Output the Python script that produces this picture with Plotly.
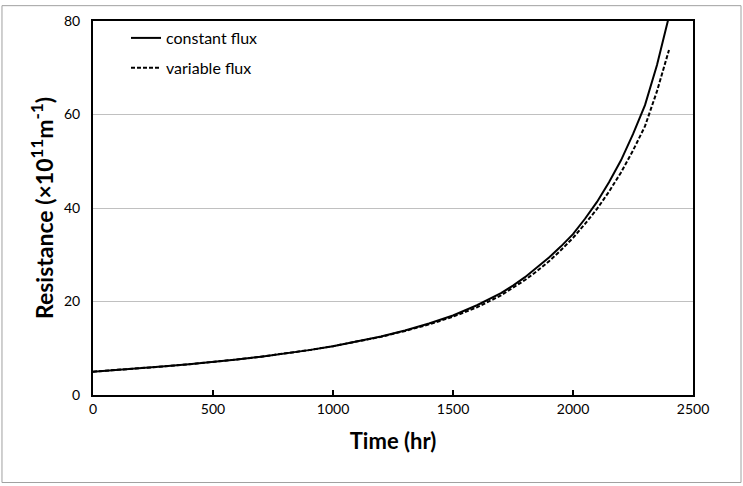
import plotly.graph_objects as go

time_hr = [0, 100, 200, 300, 400, 500, 600, 700, 800, 900, 1000, 1100, 1200,
           1300, 1400, 1500, 1600, 1700, 1750, 1800, 1850, 1900, 1950, 2000,
           2050, 2100, 2150, 2200, 2250, 2300, 2350, 2400]
constant_flux = [5.0, 5.35, 5.72, 6.13, 6.57, 7.05, 7.6, 8.2, 8.85, 9.6, 10.45,
                 11.4, 12.5, 13.8, 15.3, 17.0, 19.2, 21.8, 23.4, 25.2, 27.2,
                 29.4, 31.8, 34.4, 37.7, 41.3, 45.5, 50.2, 55.8, 62.0, 70.6, 81.0]
variable_flux = [5.0, 5.35, 5.72, 6.13, 6.57, 7.05, 7.6, 8.2, 8.85, 9.6, 10.45,
                 11.4, 12.45, 13.7, 15.1, 16.75, 18.75, 21.3, 22.9, 24.6, 26.5,
                 28.6, 31.0, 33.6, 36.6, 39.8, 43.5, 47.6, 52.3, 57.5, 65.0, 73.8]

x_ticks = [0, 500, 1000, 1500, 2000, 2500]
y_ticks = [0, 20, 40, 60, 80]

FONT = "Lato"

fig = go.Figure()
fig.add_trace(go.Scatter(x=time_hr, y=constant_flux, mode="lines", name="constant flux",
                         legendgroup="a", line=dict(color="black", width=2)))
fig.add_trace(go.Scatter(x=time_hr, y=variable_flux, mode="lines", name="variable flux",
                         legendgroup="b", line=dict(color="black", width=2, dash="4px,2px")))

fig.update_layout(
    width=743, height=486,
    margin=dict(l=93, r=50, t=17.5, b=90.5),
    paper_bgcolor="white", plot_bgcolor="white",
    font=dict(family=FONT, color="black", size=14),
    showlegend=True,
    legend=dict(x=0.055, y=1.0, xanchor="left", yanchor="top",
                bgcolor="rgba(0,0,0,0)", font=dict(size=16, family=FONT),
                tracegroupgap=6, itemwidth=30),
    xaxis=dict(range=[0, 2500], tickvals=x_ticks, ticks="inside", ticklen=5,
               tickwidth=1.5, tickcolor="black", showgrid=False, zeroline=False,
               showline=True, linecolor="black", linewidth=2, mirror=True,
               tickfont=dict(size=14, family=FONT),
               title=dict(text="<b>Time (hr)</b>", font=dict(size=22, family=FONT), standoff=18)),
    yaxis=dict(range=[0, 80], tickvals=y_ticks, ticks="", showgrid=True,
               gridcolor="#c0c0c0", gridwidth=1, zeroline=False,
               showline=True, linecolor="black", linewidth=2, mirror=True,
               tickfont=dict(size=14, family=FONT), ticklabelstandoff=8,
               title=dict(text="<b>Resistance (×10<sup><span style='font-size:17px'>11</span></sup>m<sup><span style='font-size:17px'>-1</span></sup>)</b>",
                          font=dict(size=23, family=FONT), standoff=4)),
)

fig.add_shape(type="rect", xref="paper", yref="paper",
              x0=-0.1517, x1=1.08, y0=-0.234, y1=1.041,
              line=dict(color="#a0a0a0", width=1), fillcolor="rgba(0,0,0,0)", layer="below")

fig.write_html("out.html", config={"displayModeBar": False},
               post_script="document.body.style.margin='0';document.body.style.overflow='hidden';")
